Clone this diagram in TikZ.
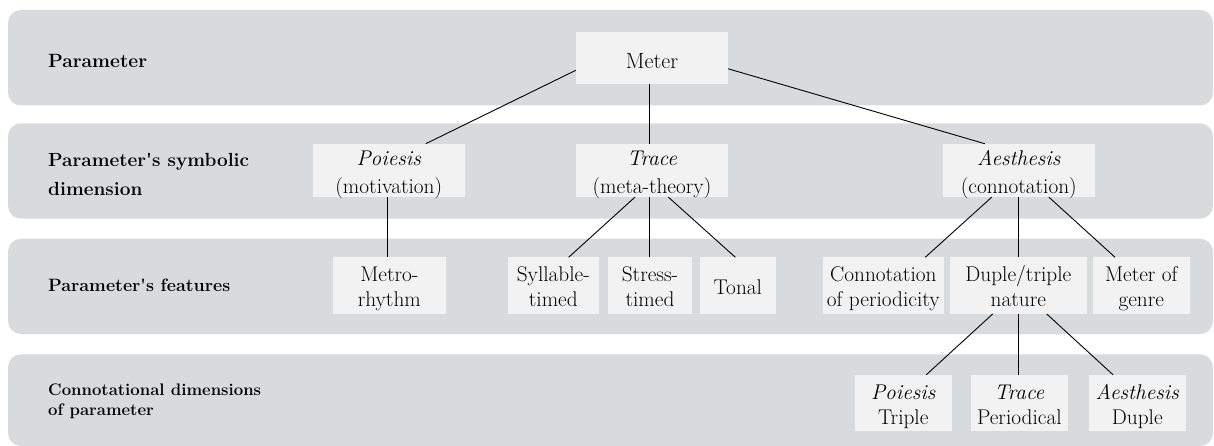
\documentclass[tikz,border=0pt]{standalone}
\usetikzlibrary{calc}
\definecolor{bandgray}{RGB}{217,218,220}
\definecolor{boxfill}{RGB}{242,242,242}
\tikzset{
  band/.style={fill=bandgray, draw=none, rounded corners=13pt},
  tbox/.style={fill=boxfill, draw=none, inner sep=0pt, align=center},
  r2/.style={tbox, font=\fontsize{21.3}{27.6}\selectfont, text height=49.3pt, text depth=3.7pt},
  r3/.style={tbox, font=\fontsize{21.3}{25}\selectfont, text height=49pt, text depth=7.3pt},
  r4/.style={tbox, font=\fontsize{21.3}{25}\selectfont, text height=49.3pt, text depth=7pt},
  lab/.style={inner sep=0pt, align=left},
  link/.style={line width=0.9pt, black},
}
\begin{document}
\begin{tikzpicture}[x=1pt, y=-1pt]
\useasboundingbox (0,0) rectangle (1214,446);
% bands
\fill[band] (8,10) rectangle (1213,105.5);
\fill[band] (8,123.3) rectangle (1213,218.7);
\fill[band] (8,238.7) rectangle (1213,334);
\fill[band] (8,354.3) rectangle (1213,446);
% row labels
\node[lab, anchor=base west, font=\bfseries\fontsize{19.2}{29}\selectfont] (l1) at (48,67.7) {Parameter};
\node[lab, anchor=north west, text height=40pt, text depth=0pt, font=\bfseries\fontsize{19}{29}\selectfont] (l2) at (48,155) {Parameter\textquotesingle s symbolic\\dimension};
\node[lab, anchor=base west, font=\bfseries\fontsize{17.9}{24}\selectfont] (l3) at (48,291) {Parameter\textquotesingle s features};
\node[lab, anchor=north west, text height=30pt, text depth=0pt, font=\bfseries\fontsize{16.7}{20}\selectfont] (l4) at (48,385) {Connotational dimensions\\of parameter};
% boxes
\node[tbox, font=\fontsize{22}{25}\selectfont, minimum width=152pt, text height=36.7pt, text depth=15.3pt] (meter) at (652,58.3) {Meter};
\node[r2, minimum width=152pt] (poi) at (388.8,170.4) {\textit{Poiesis}\\(motivation)};
\node[r2, minimum width=152pt] (tra) at (652,170.4) {\textit{Trace}\\(meta-theory)};
\node[r2, minimum width=152pt] (aes) at (1018.8,170.4) {\textit{Aesthesis}\\(connotation)};
\node[r3, minimum width=113pt] (metro) at (389.3,285.6) {Metro-\\rhythm};
\node[r3, minimum width=91pt] (syl) at (553.3,285.6) {Syllable-\\timed};
\node[r3, minimum width=83.4pt] (str) at (650,285.6) {Stress-\\timed};
\node[tbox, font=\fontsize{21.3}{25}\selectfont, minimum width=76pt, text height=37.3pt, text depth=19pt] (ton) at (737.8,285.6) {Tonal};
\node[r3, minimum width=120.7pt] (con) at (883.3,285.6) {Connotation\\of periodicity};
\node[r3, minimum width=136.7pt] (dup) at (1018.3,285.6) {Duple/triple\\nature};
\node[r3, minimum width=96.7pt] (gen) at (1141.3,285.6) {Meter of\\genre};
\node[r4, minimum width=96.7pt] (pt) at (903.3,403.1) {\textit{Poiesis}\\Triple};
\node[r4, minimum width=96.7pt] (tp) at (1019.3,403.1) {\textit{Trace}\\Periodical};
\node[r4, minimum width=96.7pt] (ad) at (1137.3,403.1) {\textit{Aesthesis}\\Duple};
% connectors
\draw[link] ($(meter.west)+(0,12)$) -- ($(poi.north)+(37,0)$);
\draw[link] ($(meter.south)+(-2.3,0)$) -- ($(tra.north)+(-2.3,0)$);
\draw[link] ($(meter.east)+(0,10.5)$) -- ($(aes.north)+(-34,0)$);
\draw[link] ($(poi.south)+(-1.1,0)$) -- ($(poi.south |- metro.north)+(-1.1,0)$);
\draw[link] ($(tra.south)+(-17,0)$) -- ($(syl.north)+(15.4,0)$);
\draw[link] ($(tra.south)+(-2.3,0)$) -- ($(tra.south |- str.north)+(-2.3,0)$);
\draw[link] ($(tra.south)+(16.3,0)$) -- ($(ton.north)+(-2.5,0)$);
\draw[link] ($(aes.south)+(-27,0)$) -- ($(con.north)+(42,0)$);
\draw[link] (aes.south) -- (aes.south |- dup.north);
\draw[link] ($(aes.south)+(30,0)$) -- ($(gen.north)+(-26.3,0)$);
\draw[link] ($(dup.south)+(-25.6,0)$) -- ($(pt.north)+(23,0)$);
\draw[link] ($(dup.south)+(0.4,0)$) -- ($(dup.south |- tp.north)+(0.4,0)$);
\draw[link] ($(dup.south)+(28.4,0)$) -- ($(ad.north)+(-24.3,0)$);
\end{tikzpicture}
\end{document}
